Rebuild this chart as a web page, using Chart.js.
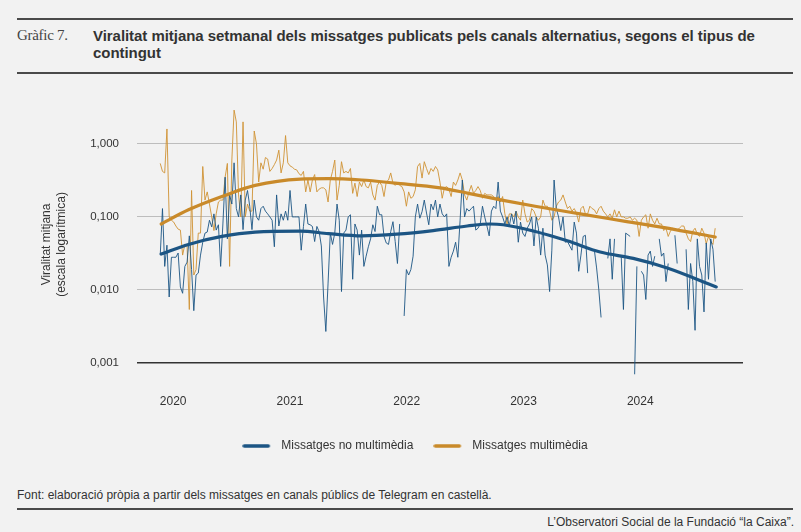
<!DOCTYPE html>
<html><head><meta charset="utf-8">
<script src="https://cdn.jsdelivr.net/npm/chart.js@4"></script>
<style>
html,body{margin:0;padding:0;background:#f2f2f2;width:801px;height:532px;overflow:hidden;font-family:'Liberation Sans',Arial,sans-serif;color:#333}
.rule{position:absolute;left:17px;width:776px;height:2px;background:#4a4a4a}
#num{position:absolute;left:17px;top:27px;font-family:'Liberation Serif','DejaVu Serif',serif;font-size:15px;color:#444;letter-spacing:-0.3px}
#title{position:absolute;left:93px;top:27px;width:670px;font-weight:bold;font-size:15px;line-height:17px;color:#333;letter-spacing:-0.05px}
#src{position:absolute;left:17px;top:488px;font-size:12px;color:#333}
#credit{position:absolute;right:7px;top:515px;font-size:12px;color:#333}
#wrap{position:absolute;left:29px;top:75px;width:772px;height:387px}
</style></head>
<body>
<div class="rule" style="top:18px"></div>
<div id="num">Gràfic 7.</div>
<div id="title">Viralitat mitjana setmanal dels missatges publicats pels canals alternatius, segons el tipus de contingut</div>
<div class="rule" style="top:72px"></div>
<div id="wrap"><canvas id="c" width="772" height="387"></canvas></div>
<div id="src">Font: elaboració pròpia a partir dels missatges en canals públics de Telegram en castellà.</div>
<div class="rule" style="top:508px"></div>
<div id="credit">L’Observatori Social de la Fundació “la Caixa”.</div>
<script>
// ---- data ----
const seriesNames = ['Missatges no multimèdia', 'Missatges multimèdia'];
const firstWeek = 2019.889;            // decimal year of first weekly observation
const xTickValues = [2020, 2021, 2022, 2023, 2024];
const xTickLabels = ['2020', '2021', '2022', '2023', '2024'];
const yTickValues = [0.001, 0.01, 0.1, 1];
const yTickLabels = ['0,001', '0,010', '0,100', '1,000'];

const noMultimedia = [
0.03,0.13,0.021,0.041,0.008,0.028,0.028,0.028,0.032,0.011,
0.009,0.021,0.024,0.055,0.019,0.0052,0.016,0.017,0.03,0.045,
0.06,0.062,0.09,0.073,0.11,0.066,0.078,0.021,0.08,0.35,
0.05,0.2,0.15,0.55,0.13,0.1,0.2,0.067,0.17,0.23,
0.14,0.067,0.17,0.1,0.09,0.13,0.14,0.12,0.11,0.1,
0.09,0.039,0.2,0.075,0.11,0.09,0.12,0.09,0.23,0.1,
0.1,0.1,0.1,0.035,0.074,0.15,0.08,0.078,0.074,0.046,
0.074,0.063,0.04,0.008,0.0027,0.0124,0.06,0.042,0.06,0.15,
0.09,0.0095,0.06,0.066,0.1,0.107,0.014,0.08,0.066,0.03,
0.066,0.021,0.029,0.039,0.05,0.078,0.063,0.14,0.107,0.107,
0.054,0.044,0.042,0.063,0.086,0.046,0.023,0.08,null,0.0044,
0.019,0.016,0.019,0.029,0.1,0.15,0.096,0.118,0.17,0.113,
0.078,0.15,0.125,0.17,0.1,0.15,0.11,0.1,0.11,0.021,
0.028,0.034,0.045,0.028,0.09,0.32,0.1,0.13,0.12,0.13,
0.14,0.066,0.07,0.08,0.14,0.1,0.075,0.055,0.12,0.14,
0.13,0.3,0.12,0.1,0.08,0.1,0.075,0.11,0.08,0.12,
0.045,0.085,0.06,0.054,0.07,0.08,0.1,0.04,0.1,0.07,
0.03,0.07,0.03,0.022,0.0095,0.035,0.32,0.13,0.1,0.065,
0.1,0.045,0.046,0.04,0.035,0.085,0.06,0.018,0.03,0.054,
0.056,0.017,null,null,0.035,0.02,0.01,0.0042,null,null,
0.027,0.05,0.014,0.05,null,null,0.029,0.0054,0.06,0.057,
0.054,null,0.0007,0.021,null,0.018,0.016,0.0074,0.03,0.034,
0.021,0.029,null,0.05,0.029,0.032,0.013,0.023,null,null,
0.056,0.023,null,null,null,0.036,0.0054,0.023,0.013,0.0028,
0.05,0.021,0.016,0.005,0.044,0.014,0.05,0.036,0.013
];

const multimedia = [
0.54,0.42,0.40,1.6,0.10,0.09,0.085,0.075,0.068,0.066,
0.03,0.042,0.04,0.0054,0.23,0.016,0.019,0.06,0.06,0.49,
0.17,0.22,0.15,0.1,0.065,0.11,0.16,0.17,0.17,0.35,
0.54,0.021,0.6,2.9,2.0,0.2,0.1,2.0,0.1,0.15,
0.12,0.12,1.5,1.0,0.3,0.55,0.45,0.65,0.62,0.42,
0.46,0.52,0.6,0.82,0.4,0.55,1.3,0.55,0.5,0.48,
0.45,0.44,0.39,0.37,0.42,0.22,0.32,0.22,0.32,0.38,
0.22,0.24,0.25,0.25,0.235,0.16,0.32,0.42,0.6,0.17,
0.27,0.57,0.4,0.42,0.4,0.46,0.21,0.29,0.19,0.3,
0.26,0.32,0.26,0.25,0.3,0.2,0.17,0.27,0.3,0.27,
0.19,0.3,0.32,0.4,0.29,0.27,0.29,0.27,0.26,0.22,
0.14,0.22,0.18,0.19,0.235,0.49,0.54,0.34,0.57,0.46,
0.38,0.46,0.42,0.49,0.44,0.3,0.18,0.25,0.26,0.24,
0.19,0.3,0.27,0.32,0.4,0.32,0.2,0.17,0.22,0.27,
0.21,0.23,0.26,0.23,0.18,0.21,0.2,0.2,0.2,0.19,
0.17,0.19,0.16,0.19,0.11,0.08,0.11,0.11,0.1,0.12,
0.1,0.09,0.17,0.11,0.085,0.09,0.13,0.12,0.1,0.09,
0.1,0.17,0.14,0.14,0.12,0.09,0.1,0.14,0.16,0.17,
0.2,0.16,0.13,0.14,0.12,0.13,0.113,0.085,0.13,0.14,
0.11,0.11,0.14,0.13,0.125,0.11,0.13,0.14,0.12,0.11,
0.1,0.11,0.096,0.125,0.1,0.12,0.1,0.1,0.096,0.096,
0.1,0.09,0.096,0.09,0.054,0.09,0.1,0.107,0.07,0.11,
0.09,0.08,0.096,0.08,0.08,0.065,0.07,0.054,0.064,0.07,
0.066,0.066,0.07,0.075,0.075,0.06,0.05,0.046,0.064,0.07,
0.058,0.054,0.07,0.06,0.043,0.054,0.046,0.042,0.07
];

// smoothed trends (decimal year, value)
const noMultTrendYears = [2019.897,2020.131,2020.417,2020.702,2021.088,2021.33,2021.616,2021.915,2022.227,2022.518,2022.715,2022.827,2023.084,2023.375,2023.657,2023.94,2024.231,2024.651];
const noMultTrend      = [0.031,0.042,0.054,0.062,0.064,0.059,0.055,0.058,0.065,0.075,0.08,0.078,0.064,0.047,0.033,0.027,0.02,0.011];
const multTrendYears = [2019.897,2020.131,2020.417,2020.702,2021.088,2021.33,2021.616,2021.9,2022.287,2022.529,2022.815,2023.1,2023.486,2023.872,2024.3,2024.642];
const multTrend      = [0.08,0.125,0.19,0.27,0.33,0.335,0.32,0.29,0.25,0.21,0.17,0.14,0.11,0.087,0.067,0.053];

// ---- build ----
const BLUE = '#1c5584', ORANGE = '#c98a2a';
const weekly = arr => arr.map((v, i) => ({x: firstWeek + i * 7 / 365.25, y: v}));
const pairs = (xs, ys) => xs.map((x, i) => ({x: x, y: ys[i]}));
const FONT = "'Liberation Sans', Arial, sans-serif";

// legend sample: 27px line inside a 33px-wide marker box
function legendMarker(color) {
  const c = document.createElement('canvas');
  c.width = 33; c.height = 6;
  const g = c.getContext('2d');
  g.strokeStyle = color; g.lineWidth = 3.5; g.lineCap = 'round';
  g.beginPath(); g.moveTo(2, 3); g.lineTo(26, 3); g.stroke();
  return c;
}
const markers = [legendMarker(BLUE), legendMarker(ORANGE)];

new Chart(document.getElementById('c'), {
  type: 'line',
  data: {datasets: [
    {label: seriesNames[0], data: pairs(noMultTrendYears, noMultTrend), borderColor: BLUE, backgroundColor: BLUE, borderWidth: 3.2, pointRadius: 0, cubicInterpolationMode: 'monotone', borderCapStyle: 'round', order: 0},
    {label: seriesNames[1], data: pairs(multTrendYears, multTrend), borderColor: ORANGE, backgroundColor: ORANGE, borderWidth: 3.2, pointRadius: 0, cubicInterpolationMode: 'monotone', borderCapStyle: 'round', order: 1},
    {label: seriesNames[0] + ' (setmanal)', data: weekly(noMultimedia), borderColor: 'rgba(28,85,132,0.9)', borderWidth: 1, pointRadius: 0, spanGaps: false, order: 2},
    {label: seriesNames[1] + ' (setmanal)', data: weekly(multimedia), borderColor: 'rgba(207,146,52,0.9)', borderWidth: 1, pointRadius: 0, spanGaps: false, order: 3}
  ]},
  options: {
    responsive: false, animation: false,
    layout: {padding: {top: 15, right: 58, left: 58, bottom: 0}},
    scales: {
      x: {
        type: 'linear', min: 2019.69, max: 2024.88,
        afterBuildTicks: s => { s.ticks = xTickValues.map(v => ({value: v})); },
        afterFit: s => { s.height = 31; },
        ticks: {callback: v => xTickLabels[xTickValues.indexOf(v)], font: {family: FONT, size: 12}, color: '#333', padding: 5, maxRotation: 0},
        grid: {display: false, drawTicks: false},
        border: {display: false}
      },
      y: {
        type: 'logarithmic', min: 0.00044, max: 4,
        afterBuildTicks: s => { s.ticks = yTickValues.map(v => ({value: v})); },
        afterFit: s => { s.width = 50; },
        ticks: {callback: v => yTickLabels[yTickValues.indexOf(v)], font: {family: FONT, size: 11.5}, color: '#333', padding: 18},
        grid: {drawTicks: false, color: c => c.tick && c.tick.value === 0.001 ? '#333333' : '#bdbdbd', lineWidth: c => c.tick && c.tick.value === 0.001 ? 1.4 : 1},
        border: {display: false},
        title: {display: true, text: ['Viralitat mitjana', '(escala logarítmica)'], font: {family: FONT, size: 12, lineHeight: 1.25}, color: '#333', padding: {top: -47.5, bottom: 0}}
      }
    },
    plugins: {
      tooltip: {enabled: false},
      legend: {
        position: 'bottom',
        labels: {
          usePointStyle: true, pointStyleWidth: 33, boxHeight: 6, padding: 20, color: '#333', font: {family: FONT, size: 12},
          generateLabels: chart => chart.data.datasets.slice(0, 2).map((d, i) => ({
            text: d.label, pointStyle: markers[i], fillStyle: d.borderColor, strokeStyle: d.borderColor, lineWidth: 0, hidden: false, datasetIndex: i, fontColor: '#333'
          }))
        }
      }
    }
  }
});
</script>
</body></html>
